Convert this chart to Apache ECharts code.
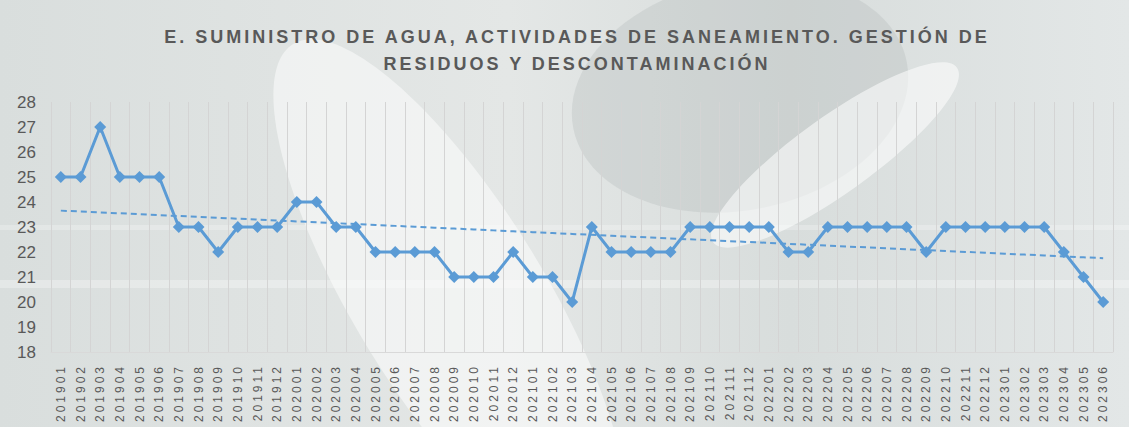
<!DOCTYPE html>
<html>
<head>
<meta charset="utf-8">
<script src="https://cdn.jsdelivr.net/npm/echarts@6/dist/echarts.min.js"></script>
<style>
  html, body { margin: 0; padding: 0; }
  #main { width: 1129px; height: 427px; }
</style>
</head>
<body>
<div id="main"></div>
<script>
var months = ['201901','201902','201903','201904','201905','201906','201907','201908','201909','201910','201911','201912',
  '202001','202002','202003','202004','202005','202006','202007','202008','202009','202010','202011','202012',
  '202101','202102','202103','202104','202105','202106','202107','202108','202109','202110','202111','202112',
  '202201','202202','202203','202204','202205','202206','202207','202208','202209','202210','202211','202212',
  '202301','202302','202303','202304','202305','202306']
var values = [25,25,27,25,25,25,23,23,22,23,23,23,
  24,24,23,23,22,22,22,22,21,21,21,22,
  21,21,20,23,22,22,22,22,23,23,23,23,
  23,22,22,23,23,23,23,23,22,23,23,23,
  23,23,23,22,21,20]
var titleText = 'E. SUMINISTRO DE AGUA, ACTIVIDADES DE SANEAMIENTO. GESTIÓN DE\nRESIDUOS Y DESCONTAMINACIÓN'

// tendencia lineal (minimos cuadrados), como la de Excel
var n = values.length
var sx = 0, sy = 0, sxy = 0, sxx = 0
for (var i = 0; i < n; i++) {
    sx += i; sy += values[i]; sxy += i * values[i]; sxx += i * i
}
var slope = (n * sxy - sx * sy) / (n * sxx - sx * sx)
var icpt = (sy - slope * sx) / n
var trend = values.map(function (v, i) { return +(icpt + slope * i).toFixed(3) })

var myChart = echarts.init(document.getElementById('main'), null, { renderer: 'svg' })
var blue = '#5b9bd5'

var option = {
    animation: false,
    backgroundColor: {
        type: 'linear', x: 0, y: 0, x2: 1, y2: 0,
        colorStops: [
            { offset: 0, color: '#d9dedd' },
            { offset: 0.45, color: '#e4e7e6' },
            { offset: 0.7, color: '#d8dddc' },
            { offset: 1, color: '#e3e7e7' }
        ]
    },
    graphic: [
        { type: 'ellipse', silent: true, z: -1, shape: { cx: 0, cy: 0, rx: 95, ry: 300 },
          x: 450, y: 300, rotation: 0.55,
          style: { fill: 'rgba(255,255,255,0.5)' } },
        { type: 'ellipse', silent: true, z: -1, shape: { cx: 0, cy: 0, rx: 170, ry: 115 },
          x: 740, y: 95, rotation: 0.2,
          style: { fill: 'rgba(175,183,181,0.3)' } },
        { type: 'ellipse', silent: true, z: -1, shape: { cx: 0, cy: 0, rx: 38, ry: 150 },
          x: 835, y: 155, rotation: -0.95,
          style: { fill: 'rgba(255,255,255,0.55)' } },
        { type: 'rect', silent: true, z: -1, shape: { x: 0, y: 280, width: 1129, height: 8 },
          style: { fill: 'rgba(255,255,255,0.3)' } },
        { type: 'rect', silent: true, z: -1, shape: { x: 0, y: 225, width: 1129, height: 5 },
          style: { fill: 'rgba(255,255,255,0.25)' } }
    ],
    title: {
        text: titleText,
        left: 572,
        textAlign: 'center',
        top: 18,
        textStyle: {
            fontFamily: 'Liberation Sans',
            fontSize: 18,
            fontWeight: 'bold',
            color: '#595959',
            lineHeight: 27
        }
    },
    grid: { left: 51, right: 16, top: 102, bottom: 75 },
    xAxis: {
        type: 'category',
        data: months,
        boundaryGap: true,
        axisLine: { lineStyle: { color: '#d9d9d9' } },
        axisTick: { show: false },
        splitLine: { show: true, lineStyle: { color: '#d4d4d4', width: 1 } },
        axisLabel: {
            interval: 0,
            rotate: 90,
            margin: 12,
            fontFamily: 'Liberation Sans',
            fontSize: 12,
            color: '#595959'
        }
    },
    yAxis: {
        type: 'value',
        min: 18,
        max: 28,
        interval: 1,
        axisLine: { show: false },
        axisTick: { show: false },
        splitLine: { show: false },
        axisLabel: {
            margin: 15,
            fontFamily: 'Liberation Sans',
            fontSize: 17,
            color: '#595959'
        }
    },
    series: [{
        name: 'E',
        type: 'line',
        data: values,
        symbol: 'diamond',
        symbolSize: 12,
        lineStyle: { color: blue, width: 3 },
        itemStyle: { color: blue },
        z: 3
    }, {
        name: 'Tendencia',
        type: 'line',
        data: trend,
        symbol: 'none',
        lineStyle: { color: blue, width: 2, type: [6, 4] },
        z: 2
    }]
}

// espaciado de letras como en el original (titulo y meses)
function spaceLetters() {
    var texts = document.querySelectorAll('#main svg text')
    texts.forEach(function (t) {
        var s = t.textContent
        if (/^\d{6}$/.test(s)) t.setAttribute('letter-spacing', '3')
        else if (titleText.indexOf(s) >= 0 && s.length > 10) t.setAttribute('letter-spacing', '3')
    })
}
myChart.on('finished', spaceLetters)
myChart.setOption(option)
spaceLetters()
</script>
</body>
</html>
